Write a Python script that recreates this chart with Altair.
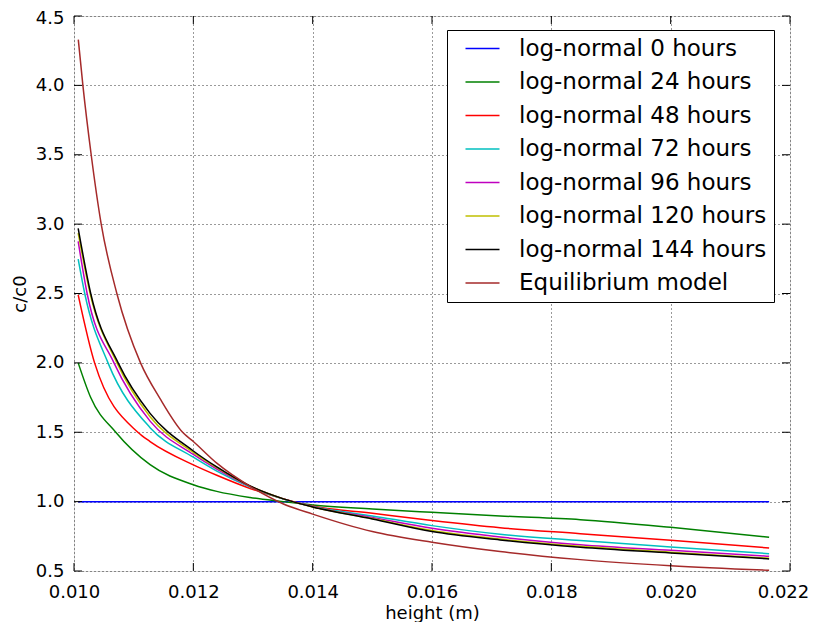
import altair as alt
import pandas as pd

# ---------------- data ----------------
series_names = [
    "log-normal 0 hours", "log-normal 24 hours", "log-normal 48 hours",
    "log-normal 72 hours", "log-normal 96 hours", "log-normal 120 hours",
    "log-normal 144 hours", "Equilibrium model",
]
series_colors = ["#0000ff", "#008000", "#ff0000", "#00bfbf",
                 "#bf00bf", "#bfbf00", "#000000", "#a52a2a"]

x_0h = [0.01007, 0.0120, 0.0140, 0.0160, 0.0180, 0.0200, 0.02165]
y_0h = [1.0, 1.0, 1.0, 1.0, 1.0, 1.0, 1.0]

x_24h = [0.01007, 0.01028, 0.0107, 0.011275, 0.012, 0.012393, 0.012951, 0.01351,
         0.014, 0.015, 0.016, 0.01714, 0.018486, 0.020, 0.02165]
y_24h = [2.00, 1.75, 1.50, 1.266, 1.122, 1.074, 1.030, 1.000,
         0.975, 0.947, 0.923, 0.897, 0.870, 0.815, 0.743]

x_48h = [0.01007, 0.010345, 0.01107, 0.011275, 0.012, 0.012393, 0.012951, 0.01351,
         0.014, 0.015, 0.016, 0.01714, 0.018486, 0.020, 0.02165]
y_48h = [2.49, 2.0, 1.5, 1.433, 1.265, 1.19, 1.095, 1.02,
         0.968, 0.916, 0.864, 0.812, 0.769, 0.721, 0.666]

x_72h = [0.01007, 0.01018, 0.01057, 0.011275, 0.012, 0.012393, 0.012951, 0.01351,
         0.014, 0.015, 0.016, 0.01714, 0.018486, 0.020, 0.02165]
y_72h = [2.748, 2.5, 2.0, 1.533, 1.32, 1.22, 1.105, 1.018,
         0.965, 0.897, 0.827, 0.765, 0.719, 0.673, 0.625]

x_96h = [0.01007, 0.01022, 0.01067, 0.011275, 0.012, 0.012393, 0.012951, 0.01351,
         0.014, 0.015, 0.016, 0.01714, 0.018486, 0.020, 0.02165]
y_96h = [2.875, 2.5, 2.0, 1.58, 1.34, 1.235, 1.11, 1.02,
         0.963, 0.885, 0.808, 0.745, 0.690, 0.649, 0.606]

x_120h = [0.01007, 0.01027, 0.01072, 0.011275, 0.012, 0.012393, 0.012951, 0.01351,
          0.014, 0.015, 0.016, 0.01714, 0.018486, 0.020, 0.02165]
y_120h = [2.935, 2.5, 2.0, 1.612, 1.355, 1.245, 1.112, 1.02,
          0.962, 0.878, 0.792, 0.73, 0.678, 0.636, 0.592]

x_144h = [0.01007, 0.01028, 0.01074, 0.011275, 0.012, 0.012393, 0.012951, 0.01351,
          0.014, 0.015, 0.016, 0.01714, 0.018486, 0.020, 0.02165]
y_144h = [2.97, 2.5, 2.0, 1.636, 1.365, 1.25, 1.113, 1.02,
          0.962, 0.875, 0.784, 0.724, 0.671, 0.630, 0.587]

x_eq = [0.010072, 0.010149, 0.010288, 0.010456, 0.010718, 0.011115, 0.01144, 0.01182,
        0.012, 0.012393, 0.012951, 0.01351, 0.014, 0.015, 0.016, 0.01714,
        0.018486, 0.020, 0.02165]
y_eq = [4.33, 4.0, 3.5, 3.0, 2.5, 2.0, 1.744, 1.5,
        1.433, 1.277, 1.11, 0.983, 0.91, 0.784, 0.707, 0.64,
        0.582, 0.538, 0.505]

x_ticks = [0.010, 0.012, 0.014, 0.016, 0.018, 0.020, 0.022]
y_ticks = [0.5, 1.0, 1.5, 2.0, 2.5, 3.0, 3.5, 4.0, 4.5]

# ---------------- table ----------------
xs = [x_0h, x_24h, x_48h, x_72h, x_96h, x_120h, x_144h, x_eq]
ys = [y_0h, y_24h, y_48h, y_72h, y_96h, y_120h, y_144h, y_eq]
rows = []
for name, xl, yl in zip(series_names, xs, ys):
    for xv, yv in zip(xl, yl):
        rows.append({"series": name, "height": xv, "c": yv})
df = pd.DataFrame(rows)

W, H = 716, 555
FONT = "DejaVu Sans"

xscale = alt.Scale(domain=[0.010, 0.022], nice=False, zero=False)
yscale = alt.Scale(domain=[0.5, 4.5], nice=False, zero=False)

grid_kw = dict(grid=True, gridColor="black", gridDash=[1, 3], gridWidth=0.8,
               gridOpacity=1, ticks=False, domain=False, labelFlush=False,
               labelOverlap=False,
               labelFont=FONT, labelFontSize=18, labelColor="black",
               titleFont=FONT, titleFontSize=18, titleColor="black",
               titleFontWeight="normal")
x_axis = alt.Axis(values=x_ticks, format=".3f", title="height (m)",
                  labelPadding=12, titlePadding=3,
                  labelOffset={"condition": {"test": "datum.value >= 0.0219", "value": -7},
                               "value": 0},
                  **grid_kw)
y_axis = alt.Axis(values=y_ticks, format=".1f", title="c/c0",
                  labelPadding=10, titlePadding=6,
                  labelOffset={"condition": {"test": "datum.value >= 4.49", "value": 2},
                               "value": 0},
                  **grid_kw)

lines = alt.Chart(df).mark_line(strokeWidth=1.5, interpolate="monotone", clip=True).encode(
    x=alt.X("height:Q", scale=xscale, axis=x_axis),
    y=alt.Y("c:Q", scale=yscale, axis=y_axis),
    color=alt.Color("series:N",
                    scale=alt.Scale(domain=series_names, range=series_colors),
                    legend=alt.Legend(title=None, orient="none", legendX=373, legendY=14,
                                      symbolType="M0,0H8.5", symbolSize=64,
                                      symbolStrokeWidth=1.5,
                                      labelFont=FONT, labelFontSize=23,
                                      labelColor="black", labelOffset=42,
                                      labelLimit=500,
                                      padding=7, rowPadding=9.5,
                                      strokeColor="black", fillColor="white",
                                      cornerRadius=0)),
)

ydf = pd.DataFrame({"c": y_ticks})
xdf = pd.DataFrame({"height": x_ticks})
tick_l = alt.Chart(ydf).mark_rule(color="black", strokeWidth=1).encode(
    y=alt.Y("c:Q", scale=yscale, axis=y_axis), x=alt.value(0), x2=alt.value(8))
tick_r = alt.Chart(ydf).mark_rule(color="black", strokeWidth=1).encode(
    y=alt.Y("c:Q", scale=yscale, axis=y_axis), x=alt.value(W - 8), x2=alt.value(W))
tick_b = alt.Chart(xdf).mark_rule(color="black", strokeWidth=1).encode(
    x=alt.X("height:Q", scale=xscale, axis=x_axis), y=alt.value(H - 8), y2=alt.value(H))
tick_t = alt.Chart(xdf).mark_rule(color="black", strokeWidth=1).encode(
    x=alt.X("height:Q", scale=xscale, axis=x_axis), y=alt.value(0), y2=alt.value(8))

chart = alt.layer(lines, tick_l, tick_r, tick_b, tick_t).properties(
    width=W, height=H,
    padding={"left": 66, "top": 8, "right": 19, "bottom": 51},
    autosize=alt.AutoSizeParams(type="none"),
    background="white",
).configure_view(stroke="black", strokeWidth=1.3).configure(font=FONT)

chart.save("out.html", embed_options={"renderer": "svg", "actions": False})
